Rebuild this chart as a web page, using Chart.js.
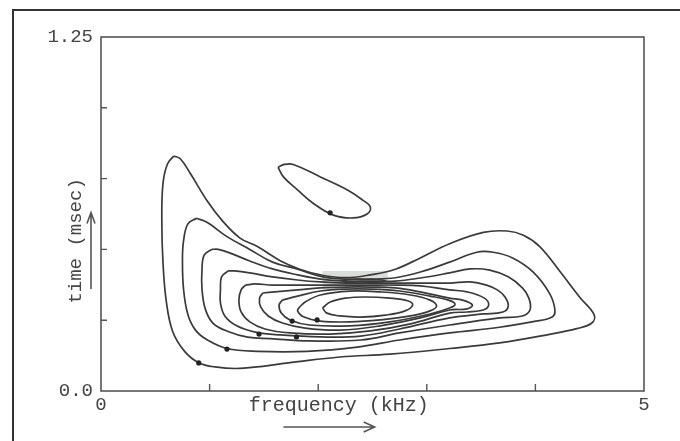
<!DOCTYPE html>
<html><head><meta charset="utf-8">
<script src="https://cdn.jsdelivr.net/npm/chart.js@4"></script>
<style>html,body{margin:0;padding:0;background:#fff}</style>
</head><body>
<canvas id="c" width="680" height="441"></canvas>
<script>
// Axis ranges and tick marks
const xTickMarks = [1, 2, 3, 4];
const yTickMarks = [0.25, 0.5, 0.75, 1.0];
const xTickLabels = {0: '0', 5: '5'};
const yTickLabels = {0: '0.0', 1.25: '1.25'};
const xTitle = 'frequency (kHz)';
const yTitle = 'time (msec)';

// Contours (frequency in kHz, time in msec)
const c1Freq = [0.67,0.61,0.57,0.56,0.57,0.60,0.66,0.77,0.90,1.05,1.28,1.74,2.20,2.66,3.21,3.67,4.13,4.38,4.52,4.54,4.41,4.23,4.04,3.89,3.74,3.52,3.21,2.94,2.71,2.48,2.25,2.02,1.83,1.65,1.44,1.28,1.12,0.98,0.82,0.73,0.67];
const c1Time = [0.83,0.80,0.73,0.60,0.46,0.32,0.21,0.14,0.10,0.085,0.08,0.10,0.12,0.13,0.15,0.17,0.20,0.22,0.24,0.27,0.33,0.42,0.51,0.55,0.565,0.56,0.52,0.47,0.43,0.41,0.40,0.41,0.43,0.46,0.51,0.54,0.60,0.67,0.77,0.82,0.83];

const c2Freq = [0.88,0.80,0.76,0.75,0.76,0.80,0.87,0.98,1.16,1.44,1.90,2.36,2.75,3.21,3.67,3.98,4.15,4.18,4.13,3.98,3.79,3.61,3.46,3.21,2.94,2.71,2.48,2.25,2.02,1.81,1.58,1.37,1.16,0.98,0.88];
const c2Time = [0.61,0.59,0.53,0.46,0.36,0.27,0.215,0.18,0.15,0.14,0.14,0.155,0.18,0.205,0.225,0.245,0.26,0.285,0.345,0.42,0.47,0.49,0.49,0.455,0.42,0.40,0.395,0.395,0.405,0.43,0.455,0.50,0.545,0.595,0.61];

const c3Freq = [1.02,0.95,0.93,0.93,0.96,1.03,1.17,1.35,1.56,1.92,2.39,2.75,3.21,3.67,3.88,3.95,3.94,3.88,3.75,3.58,3.40,3.21,2.94,2.71,2.48,2.25,2.02,1.81,1.58,1.37,1.19,1.08,1.02];
const c3Time = [0.50,0.48,0.43,0.36,0.29,0.24,0.21,0.19,0.185,0.177,0.18,0.205,0.233,0.258,0.265,0.286,0.328,0.364,0.403,0.427,0.431,0.417,0.399,0.388,0.388,0.388,0.395,0.41,0.431,0.459,0.487,0.50,0.50];

const c4Freq = [1.17,1.11,1.10,1.10,1.14,1.25,1.42,1.65,2.02,2.39,2.75,3.21,3.52,3.70,3.75,3.72,3.65,3.55,3.40,3.21,2.94,2.71,2.48,2.25,2.02,1.81,1.58,1.37,1.23,1.17];
const c4Time = [0.424,0.403,0.357,0.311,0.265,0.23,0.208,0.198,0.191,0.194,0.219,0.258,0.272,0.279,0.30,0.332,0.357,0.374,0.385,0.381,0.381,0.381,0.381,0.381,0.385,0.392,0.403,0.417,0.424,0.424];

const c5Freq = [1.33,1.29,1.27,1.29,1.37,1.51,1.74,2.11,2.48,2.85,3.21,3.37,3.52,3.57,3.53,3.37,3.21,2.94,2.71,2.48,2.25,2.02,1.81,1.58,1.42,1.33];
const c5Time = [0.374,0.357,0.321,0.279,0.244,0.219,0.205,0.201,0.212,0.237,0.275,0.279,0.286,0.304,0.328,0.35,0.357,0.371,0.374,0.374,0.374,0.374,0.374,0.374,0.378,0.374];

const c6Freq = [1.49,1.46,1.47,1.54,1.67,1.88,2.20,2.57,2.94,3.21,3.37,3.42,3.33,3.21,2.94,2.71,2.48,2.25,2.02,1.81,1.60,1.49];
const c6Time = [0.346,0.328,0.297,0.265,0.24,0.222,0.215,0.23,0.258,0.286,0.29,0.304,0.321,0.328,0.35,0.364,0.367,0.367,0.364,0.357,0.35,0.346];

const c7Freq = [1.67,1.64,1.66,1.74,1.92,2.29,2.66,3.03,3.21,3.26,3.20,3.03,2.75,2.48,2.25,2.02,1.81,1.67];
const c7Time = [0.321,0.304,0.275,0.251,0.233,0.23,0.244,0.272,0.293,0.307,0.321,0.335,0.353,0.36,0.36,0.353,0.335,0.321];

const c8Freq = [1.83,1.81,1.87,2.02,2.29,2.57,2.85,3.03,3.09,3.03,2.85,2.57,2.29,2.02,1.88,1.83];
const c8Time = [0.297,0.283,0.261,0.247,0.244,0.251,0.265,0.283,0.30,0.321,0.339,0.35,0.353,0.339,0.314,0.297];

const c9Freq = [2.04,2.11,2.25,2.43,2.66,2.83,2.87,2.80,2.62,2.39,2.20,2.08,2.04];
const c9Time = [0.293,0.314,0.328,0.332,0.328,0.318,0.304,0.283,0.268,0.261,0.265,0.275,0.293];

const saddleFreq = [2.22,2.29,2.48,2.62,2.48,2.29,2.22];
const saddleTime = [0.388,0.394,0.394,0.388,0.382,0.382,0.388];

const islandFreq = [1.63,1.69,1.77,2.02,2.27,2.41,2.48,2.45,2.32,2.14,1.95,1.81,1.68,1.63];
const islandTime = [0.79,0.80,0.80,0.756,0.71,0.674,0.65,0.625,0.611,0.621,0.664,0.71,0.756,0.79];

// Smudge (scan artifact) around the saddle
const smudgeFreq = [2.04,2.64,2.64,2.04,2.04];
const smudgeTime = [0.367,0.367,0.424,0.424,0.367];

// Contour label dots
const dotFreq = [0.90,1.16,1.455,1.76,1.80,1.99,2.11];
const dotTime = [0.099,0.148,0.201,0.247,0.191,0.251,0.629];

const pts = (f, t) => f.map((v, i) => ({x: v, y: t[i]}));
const LINE = '#3a3a3a';
const contour = (f, t) => ({
  data: pts(f, t), showLine: true, borderColor: LINE, borderWidth: 1.7,
  pointRadius: 0, tension: 0.4, fill: false, order: 1
});

const datasets = [
  contour(c1Freq, c1Time), contour(c2Freq, c2Time), contour(c3Freq, c3Time),
  contour(c4Freq, c4Time), contour(c5Freq, c5Time), contour(c6Freq, c6Time),
  contour(c7Freq, c7Time), contour(c8Freq, c8Time), contour(c9Freq, c9Time),
  contour(saddleFreq, saddleTime), contour(islandFreq, islandTime),
  {data: pts(smudgeFreq, smudgeTime), showLine: true, borderWidth: 0, borderColor: 'rgba(0,0,0,0)',
   backgroundColor: 'rgba(150,160,150,0.35)', fill: 'shape', pointRadius: 0, tension: 0, order: 5},
  {data: pts(dotFreq, dotTime), showLine: false, pointRadius: 2.6, pointBackgroundColor: '#222',
   pointBorderWidth: 0, order: 0}
];

const FONT = "'Liberation Mono', 'DejaVu Sans Mono', monospace";
const TXT = '#444';

const decor = {
  id: 'decor',
  afterDraw(chart) {
    const {ctx, chartArea: a, scales: {x, y}} = chart;
    ctx.save();
    // outer page frame (top and left)
    ctx.strokeStyle = '#333'; ctx.lineWidth = 2;
    ctx.beginPath(); ctx.moveTo(13, 441); ctx.lineTo(13, 10); ctx.lineTo(680, 10); ctx.stroke();
    // plot border
    ctx.strokeStyle = '#555'; ctx.lineWidth = 1.6;
    ctx.strokeRect(a.left, a.top, a.right - a.left, a.bottom - a.top);
    // inward ticks
    ctx.lineWidth = 1.4;
    ctx.beginPath();
    xTickMarks.forEach(v => { const p = x.getPixelForValue(v); ctx.moveTo(p, a.bottom); ctx.lineTo(p, a.bottom - 7); });
    yTickMarks.forEach(v => { const p = y.getPixelForValue(v); ctx.moveTo(a.left, p); ctx.lineTo(a.left + 6, p); });
    ctx.stroke();
    // titles
    ctx.fillStyle = TXT;
    ctx.textAlign = 'center'; ctx.textBaseline = 'middle';
    ctx.font = '20px ' + FONT;
    ctx.fillText(xTitle, x.getPixelForValue(2.19), a.bottom + 15);
    ctx.save();
    ctx.translate(a.left - 25, y.getPixelForValue(0.53));
    ctx.rotate(-Math.PI / 2);
    ctx.font = '19px ' + FONT;
    ctx.fillText(yTitle, 0, 0);
    ctx.restore();
    // arrows
    ctx.strokeStyle = '#555'; ctx.lineWidth = 1.6;
    const ax0 = x.getPixelForValue(1.68), ax1 = x.getPixelForValue(2.52), ay = a.bottom + 36;
    ctx.beginPath();
    ctx.moveTo(ax0, ay); ctx.lineTo(ax1, ay);
    ctx.moveTo(ax1 - 11, ay - 5); ctx.lineTo(ax1, ay); ctx.lineTo(ax1 - 11, ay + 5);
    const vx = a.left - 10, vy0 = y.getPixelForValue(0.36), vy1 = y.getPixelForValue(0.63);
    ctx.moveTo(vx, vy0); ctx.lineTo(vx, vy1);
    ctx.moveTo(vx - 4, vy1 + 11); ctx.lineTo(vx, vy1); ctx.lineTo(vx + 4, vy1 + 11);
    ctx.stroke();
    ctx.restore();
  }
};

new Chart(document.getElementById('c'), {
  type: 'scatter',
  data: {datasets},
  options: {
    responsive: false, animation: false, devicePixelRatio: 1,
    layout: {padding: {top: 37, right: 36, left: 0, bottom: 0}},
    plugins: {legend: {display: false}, tooltip: {enabled: false}},
    scales: {
      x: {
        type: 'linear', min: 0, max: 5,
        afterFit: s => { s.height = 50; },
        grid: {display: false, drawTicks: false}, border: {display: false},
        ticks: {stepSize: 1, autoSkip: false, maxRotation: 0, padding: 3, color: TXT,
          font: {family: FONT, size: 19}, callback: v => xTickLabels[v] ?? ''}
      },
      y: {
        type: 'linear', min: 0, max: 1.25,
        afterFit: s => { s.width = 101; },
        grid: {display: false, drawTicks: false}, border: {display: false},
        ticks: {stepSize: 0.25, autoSkip: false, padding: 8, color: TXT,
          font: {family: FONT, size: 19}, callback: v => yTickLabels[v] ?? ''}
      }
    }
  },
  plugins: [decor]
});
</script>
</body></html>
